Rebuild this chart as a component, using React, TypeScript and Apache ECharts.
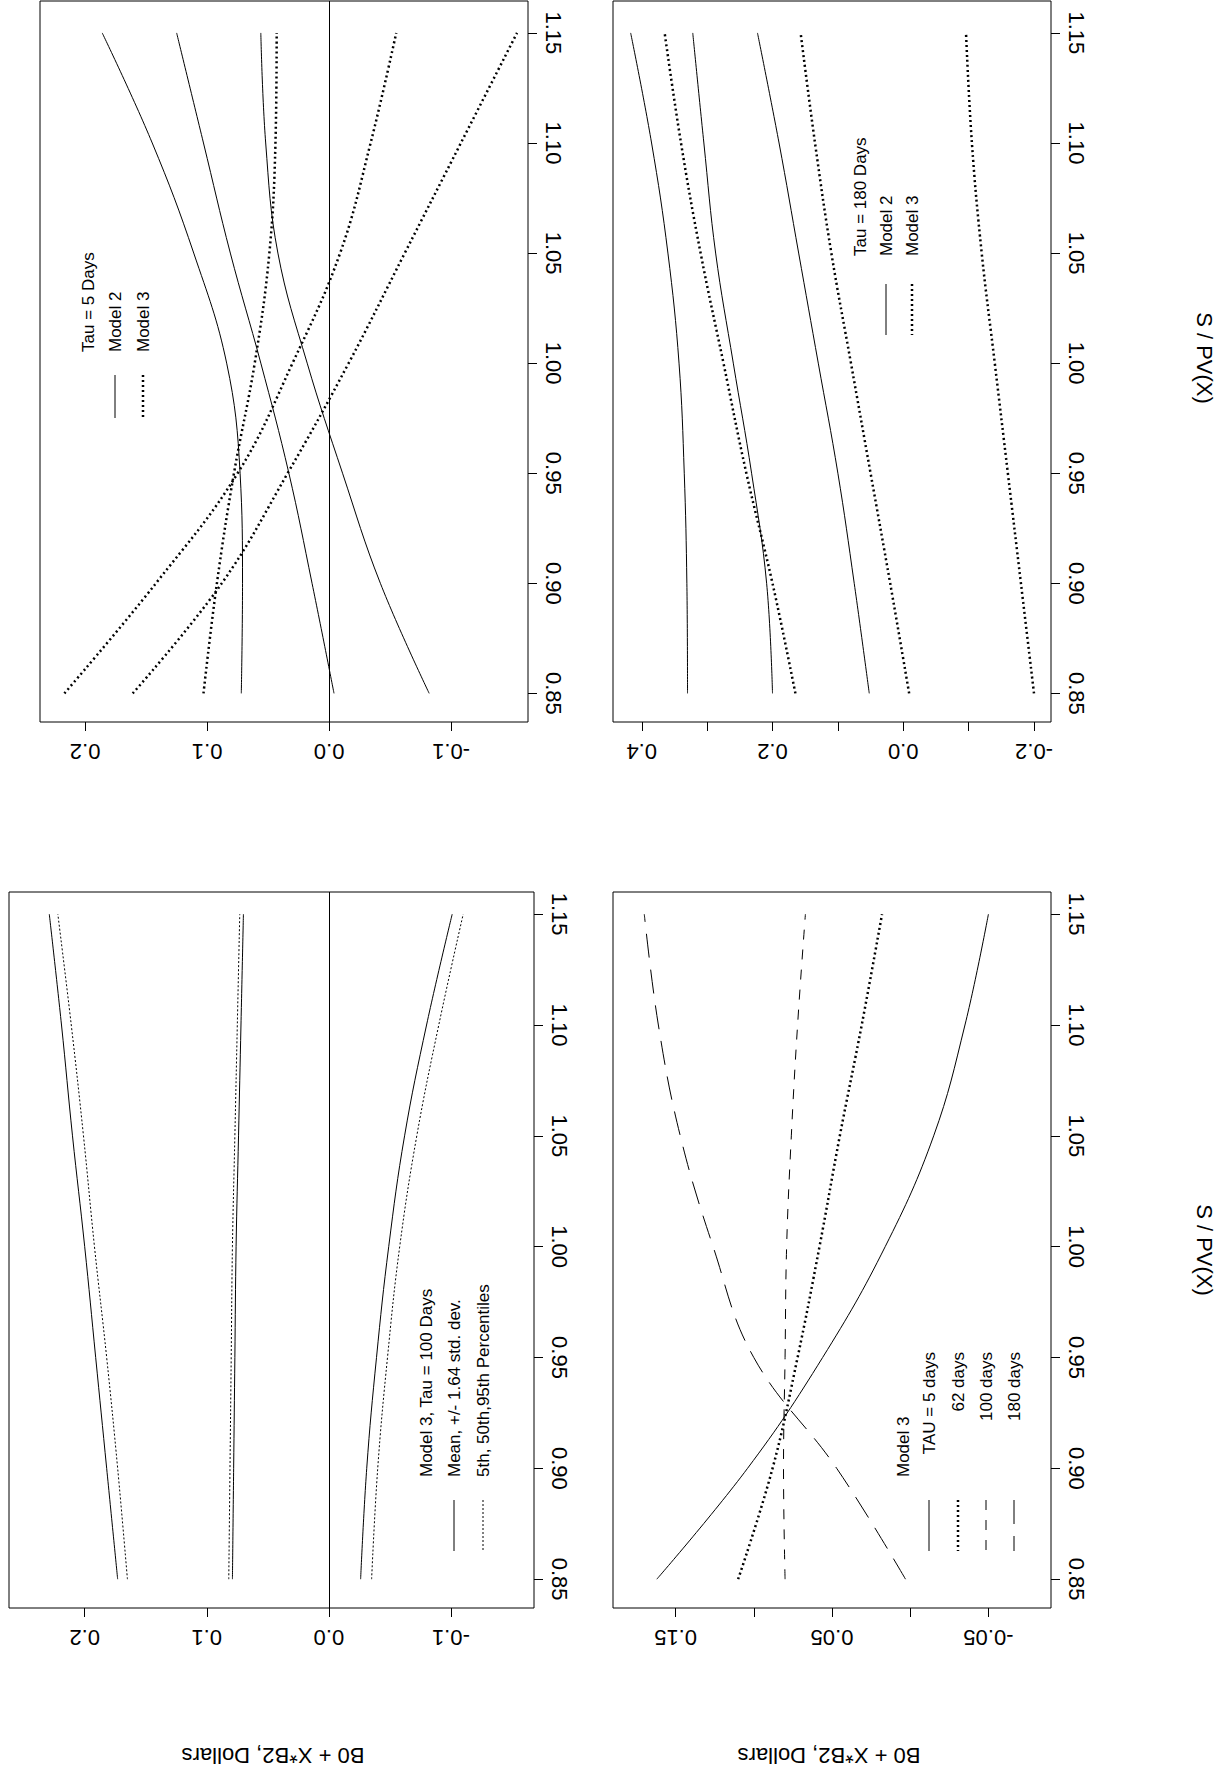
import { useEffect, useRef } from "react";
import * as echarts from "echarts";

const S = [0.85, 0.9, 0.95, 1.0, 1.05, 1.1, 1.15];

// Tau = 5 Days
const a_m2_1 = [0.072, 0.071, 0.073, 0.084, 0.111, 0.145, 0.186];
const a_m2_2 = [-0.004, 0.014, 0.033, 0.056, 0.081, 0.103, 0.125];
const a_m2_3 = [-0.082, -0.042, -0.011, 0.018, 0.042, 0.052, 0.056];
const a_m3_1 = [0.217, 0.142, 0.075, 0.03, -0.009, -0.034, -0.055];
const a_m3_2 = [0.161, 0.088, 0.034, -0.016, -0.062, -0.108, -0.154];
const a_m3_3 = [0.103, 0.092, 0.078, 0.061, 0.049, 0.044, 0.043];

// Tau = 180 Days
const b_m2_1 = [0.33, 0.331, 0.335, 0.343, 0.36, 0.385, 0.417];
const b_m2_2 = [0.2, 0.209, 0.232, 0.26, 0.287, 0.305, 0.322];
const b_m2_3 = [0.052, 0.075, 0.1, 0.13, 0.16, 0.19, 0.223];
const b_m3_1 = [0.165, 0.2, 0.24, 0.275, 0.31, 0.34, 0.365];
const b_m3_2 = [-0.009, 0.02, 0.05, 0.08, 0.11, 0.135, 0.157];
const b_m3_3 = [-0.2, -0.18, -0.16, -0.14, -0.12, -0.105, -0.096];

// Model 3, Tau = 100 Days
const c_mean_hi = [0.173, 0.182, 0.191, 0.2, 0.21, 0.219, 0.229];
const c_mean_mid = [0.079, 0.078, 0.077, 0.076, 0.074, 0.072, 0.07];
const c_mean_lo = [-0.026, -0.031, -0.039, -0.049, -0.062, -0.08, -0.101];
const c_pct_hi = [0.165, 0.173, 0.182, 0.192, 0.201, 0.211, 0.222];
const c_pct_mid = [0.082, 0.081, 0.08, 0.079, 0.077, 0.075, 0.073];
const c_pct_lo = [-0.035, -0.04, -0.048, -0.058, -0.072, -0.09, -0.11];

// Model 3, by TAU
const d_5 = [0.162, 0.104, 0.056, 0.016, -0.015, -0.035, -0.05];
const d_62 = [0.11, 0.088, 0.072, 0.058, 0.045, 0.031, 0.018];
const d_100 = [0.08, 0.081, 0.08, 0.079, 0.076, 0.072, 0.067];
const d_180 = [0.003, 0.047, 0.1, 0.126, 0.147, 0.161, 0.17];

const sTicks = [0.85, 0.9, 0.95, 1.0, 1.05, 1.1, 1.15];

const FONT = "Liberation Sans";

const SOLID = { type: "solid" as const, width: 1 };
const THICKDOT = { type: [2, 3], width: 2.5 };
const THINDOT = { type: [2, 2], width: 1 };
const DASH = { type: [10, 10], width: 1 };
const LONGDASH = { type: [24, 12], width: 1 };

export default function App() {
  const ref = useRef<HTMLDivElement>(null);

  useEffect(() => {
    document.body.style.margin = "0";
    if (!ref.current) return;
    const chart = echarts.init(ref.current, null, { renderer: "svg" });

    const grids = [
      { left: 40, top: 1, width: 488, height: 721 },
      { left: 613, top: 1, width: 438, height: 721 },
      { left: 9, top: 892, width: 525, height: 716 },
      { left: 613, top: 892, width: 438, height: 716 },
    ].map((g) => ({ ...g, show: true, borderColor: "#000", borderWidth: 1, backgroundColor: "transparent" }));

    const valAxis = (i: number, min: number, max: number, labels: number[], ticks: number[], dec: number) => ({
      type: "value",
      gridIndex: i,
      min,
      max,
      inverse: true,
      position: "bottom",
      splitLine: { show: false },
      axisLine: { show: false, onZero: false },
      axisTick: { show: true, length: 9, lineStyle: { color: "#000" }, customValues: ticks },
      axisLabel: {
        rotate: 180,
        margin: 18,
        fontSize: 22,
        fontFamily: FONT,
        color: "#000",
        customValues: labels,
        formatter: (v: number) => v.toFixed(dec),
      },
    });

    const sAxis = (i: number, min: number, max: number) => ({
      type: "value",
      gridIndex: i,
      min,
      max,
      position: "right",
      splitLine: { show: false },
      axisLine: { show: false, onZero: false },
      axisTick: { show: true, length: 9, lineStyle: { color: "#000" }, customValues: sTicks },
      axisLabel: {
        rotate: -90,
        margin: 14,
        fontSize: 22,
        fontFamily: FONT,
        color: "#000",
        customValues: sTicks,
        formatter: (v: number) => v.toFixed(2),
      },
    });

    const line = (i: number, vals: number[], style: any, extra: any = {}) => ({
      type: "line",
      xAxisIndex: i,
      yAxisIndex: i,
      data: vals.map((v, k) => [v, S[k]]),
      smooth: 0.4,
      symbol: "none",
      lineStyle: { color: "#000", ...style },
      ...extra,
    });

    const zero = {
      markLine: {
        silent: true,
        symbol: "none",
        label: { show: false },
        lineStyle: { color: "#000", type: "solid", width: 1 },
        data: [{ xAxis: 0 }],
      },
    };

    const txt = (x: number, y: number, text: string, rot: number, size: number, align = "left") => ({
      type: "text",
      x,
      y,
      rotation: rot,
      style: { text, fontSize: size, fontFamily: FONT, fill: "#000", textAlign: align, textVerticalAlign: "middle" },
    });

    const seg = (x: number, y1: number, y2: number, style: any) => ({
      type: "line",
      shape: { x1: x, y1, x2: x, y2 },
      style: { stroke: "#000", lineWidth: style.width, lineDash: style.type === "solid" ? null : style.type },
    });

    const up = Math.PI / 2;

    chart.setOption({
      animation: false,
      grid: grids,
      xAxis: [
        valAxis(0, -0.163, 0.237, [0.2, 0.1, 0, -0.1], [0.2, 0.1, 0, -0.1], 1),
        valAxis(1, -0.226, 0.444, [0.4, 0.2, 0, -0.2], [0.4, 0.3, 0.2, 0.1, 0, -0.1, -0.2], 1),
        valAxis(2, -0.168, 0.262, [0.2, 0.1, 0, -0.1], [0.2, 0.1, 0, -0.1], 1),
        valAxis(3, -0.09, 0.19, [0.15, 0.05, -0.05], [0.15, 0.1, 0.05, 0, -0.05], 2),
      ],
      yAxis: [sAxis(0, 0.837, 1.1645), sAxis(1, 0.837, 1.1645), sAxis(2, 0.837, 1.16), sAxis(3, 0.837, 1.16)],
      series: [
        line(0, a_m2_1, SOLID, zero),
        line(0, a_m2_2, SOLID),
        line(0, a_m2_3, SOLID),
        line(0, a_m3_1, THICKDOT),
        line(0, a_m3_2, THICKDOT),
        line(0, a_m3_3, THICKDOT),
        line(1, b_m2_1, SOLID),
        line(1, b_m2_2, SOLID),
        line(1, b_m2_3, SOLID),
        line(1, b_m3_1, THICKDOT),
        line(1, b_m3_2, THICKDOT),
        line(1, b_m3_3, THICKDOT),
        line(2, c_mean_hi, SOLID, zero),
        line(2, c_mean_mid, SOLID),
        line(2, c_mean_lo, SOLID),
        line(2, c_pct_hi, THINDOT),
        line(2, c_pct_mid, THINDOT),
        line(2, c_pct_lo, THINDOT),
        line(3, d_5, SOLID),
        line(3, d_62, THICKDOT),
        line(3, d_100, DASH),
        line(3, d_180, LONGDASH),
      ],
      graphic: [
        txt(88, 352, "Tau = 5 Days", up, 17),
        txt(115, 352, "Model 2", up, 17),
        txt(143, 352, "Model 3", up, 17),
        seg(115, 375, 418, SOLID),
        seg(143, 375, 418, THICKDOT),

        txt(860, 256, "Tau = 180 Days", up, 17),
        txt(886, 256, "Model 2", up, 17),
        txt(912, 256, "Model 3", up, 17),
        seg(886, 284, 335, SOLID),
        seg(912, 284, 335, THICKDOT),

        txt(426, 1477, "Model 3, Tau = 100 Days", up, 17),
        txt(454, 1477, "Mean, +/- 1.64 std. dev.", up, 17),
        txt(483, 1477, "5th, 50th,95th Percentiles", up, 17),
        seg(454, 1500, 1551, SOLID),
        seg(483, 1500, 1551, THINDOT),

        txt(903, 1477, "Model 3", up, 17),
        txt(929, 1352, "TAU = 5 days", up, 17, "right"),
        txt(958, 1352, "62 days", up, 17, "right"),
        txt(986, 1352, "100 days", up, 17, "right"),
        txt(1014, 1352, "180 days", up, 17, "right"),
        seg(929, 1500, 1551, SOLID),
        seg(958, 1500, 1551, THICKDOT),
        seg(986, 1500, 1551, DASH),
        seg(1014, 1500, 1551, LONGDASH),

        txt(1204, 358, "S / PV(X)", -up, 22, "center"),
        txt(1204, 1250, "S / PV(X)", -up, 22, "center"),
        txt(273, 1755, "B0 + X*B2, Dollars", Math.PI, 22, "center"),
        txt(829, 1755, "B0 + X*B2, Dollars", Math.PI, 22, "center"),
      ],
    });

    return () => chart.dispose();
  }, []);

  return <div ref={ref} style={{ width: 1227, height: 1776, background: "#fff" }} />;
}
